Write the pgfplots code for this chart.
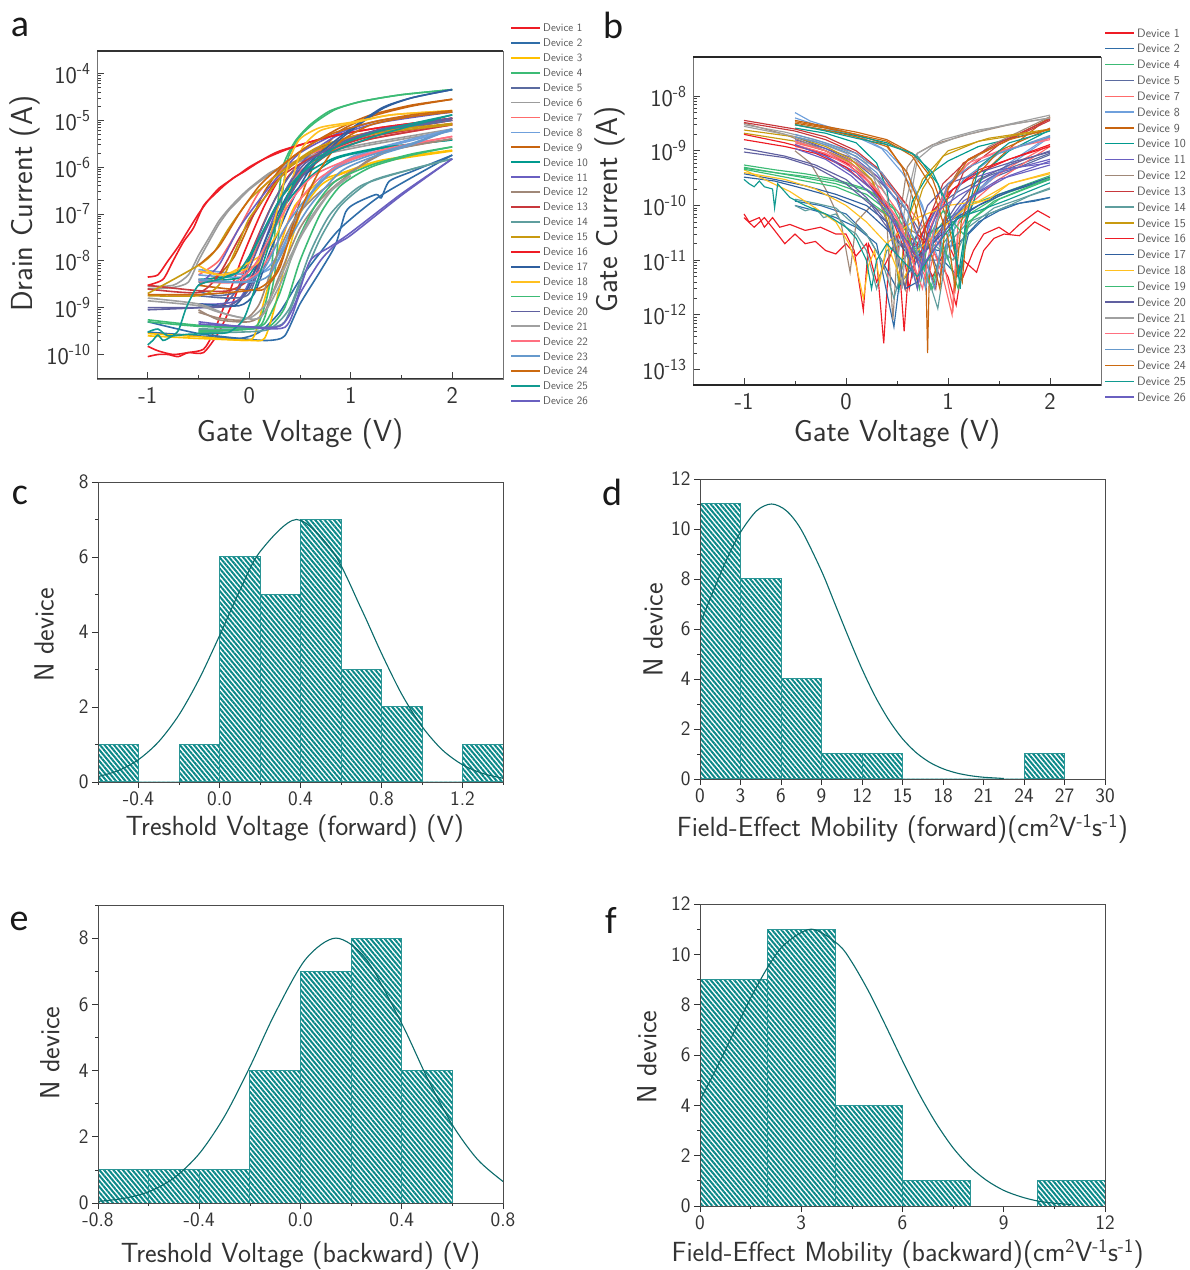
\documentclass[border=0pt]{standalone}
\usepackage{fontspec}
\usepackage{pgfplots}
\pgfplotsset{compat=1.18}
\usetikzlibrary{patterns.meta}
\newfontfamily\letfont{Carlito}
\definecolor{tx}{HTML}{333333}
\definecolor{txl}{HTML}{555555}
\definecolor{hat}{HTML}{0A8888}
\definecolor{hatb}{HTML}{2A9595}
\definecolor{fitc}{HTML}{0B6B6B}
\definecolor{c1}{HTML}{EE1C25}\definecolor{c2}{HTML}{2F6DA8}\definecolor{c3}{HTML}{FFC000}\definecolor{c4}{HTML}{3CBB75}
\definecolor{c5}{HTML}{5B6BA0}\definecolor{c6}{HTML}{9C9C9C}\definecolor{c7}{HTML}{FF6B6B}\definecolor{c8}{HTML}{6FA0DC}
\definecolor{c9}{HTML}{C8640F}\definecolor{c10}{HTML}{009A8E}\definecolor{c11}{HTML}{6A5FC1}\definecolor{c12}{HTML}{A08878}
\definecolor{c13}{HTML}{C8383C}\definecolor{c14}{HTML}{5F9E9E}\definecolor{c15}{HTML}{C89A10}\definecolor{c16}{HTML}{EE1C25}
\definecolor{c17}{HTML}{2F5F9F}\definecolor{c18}{HTML}{FFC020}\definecolor{c19}{HTML}{3CBB75}\definecolor{c20}{HTML}{6060A0}
\definecolor{c21}{HTML}{A0A0A0}\definecolor{c22}{HTML}{FF7080}\definecolor{c23}{HTML}{6699CC}\definecolor{c24}{HTML}{CC6A10}
\definecolor{c25}{HTML}{119A90}\definecolor{c26}{HTML}{6A60C0}
\newcommand\fs[1]{\fontsize{#1}{#1}\selectfont\sffamily}
\newcommand\D[3]{\addplot[#1,forget plot]coordinates{#2};\addplot[#1,forget plot]coordinates{#3};}
\pgfplotsset{
 logpanel/.style={scale only axis,xmin=-1.5,xmax=2.5,
  xtick={-1,0,1,2},xticklabels={-1,0,1,2},minor xtick={-.5,.5,1.5},
  tick align=inside,xtick pos=bottom,ytick pos=left,
  major tick length=7pt,minor tick length=4pt,
  tick style={color=black!75,line width=.7pt},
  axis line style={color=black!55,line width=.8pt},
  tick label style={font=\fs{24},text=tx},
  label style={font=\fs{30.4},text=tx},
  xticklabel style={yshift=-5pt},
  yticklabel style={xshift=-3pt},
  no markers,clip=true},
 histpanel/.style={scale only axis,width=405pt,
  tick align=outside,xtick pos=bottom,ytick pos=left,
  major tick length=6pt,minor tick length=3pt,
  tick style={color=black!80,line width=.7pt},
  axis line style={color=black!70,line width=.8pt},
  tick label style={font=\fs{20.5},text=tx},
  label style={font=\fs{27.7},text=tx},
  axis on top},
 bars/.style={ybar interval,pattern={Lines[angle=-50,distance=3.6pt,line width=2pt]},pattern color=hat,draw=hatb,line width=1pt},
 fit/.style={color=fitc,line width=1.1pt,smooth,no markers},
}
\begin{document}
\begin{tikzpicture}
\path[use as bounding box] (0,0) rectangle (1190pt,1270pt);
% ---------- a
\begin{axis}[logpanel,ymode=log,at={(97pt,891pt)},anchor=south west,width=406pt,height=328pt,
 ymin=3e-11,ymax=3e-4,
 ytick={1e-10,1e-9,1e-8,1e-7,1e-6,1e-5,1e-4},
 yticklabels={10\textsuperscript{-10},10\textsuperscript{-9},10\textsuperscript{-8},10\textsuperscript{-7},10\textsuperscript{-6},10\textsuperscript{-5},10\textsuperscript{-4}},
 xlabel={Gate Voltage (V)},ylabel={Drain Current (A)},
 xlabel style={at={(axis description cs:.5,-.168)},anchor=center},
 ylabel style={at={(axis description cs:-.177,.534)},anchor=center},
 every axis plot/.append style={line width=1.6pt,smooth,tension=.4},
]
\D{c1}{(-1,9e-11)(-.9,1e-10)(-.8,1e-10)(-.7,9e-11)(-.6,1.1e-10)(-.45,1.1e-10)(-.3,3e-10)(-.15,1.5e-9)(0,1.2e-8)(.2,1.2e-7)(.4,7e-7)(.7,2.2e-6)(1.1,4.5e-6)(2,1e-5)}{(-1,1.5e-10)(-.9,1.2e-10)(-.75,1e-10)(-.6,1.1e-10)(-.45,1.3e-10)(-.35,3e-10)(-.2,2e-9)(-.05,1.5e-8)(.15,1.5e-7)(.35,8e-7)(.7,2.6e-6)(1.1,5e-6)(2,1.1e-5)}
\D{c2}{(-1,5e-10)(-.5,2.8e-10)(0,2.1e-10)(.2,2e-10)(.35,2.5e-10)(.5,1.2e-9)(.7,6e-9)(.85,2.2e-8)(.95,1.1e-7)(1.05,1.7e-7)(1.25,2.6e-7)(1.3,2.2e-7)(1.38,5e-7)(1.6,8e-7)(2,1.8e-6)}{(-1,3e-10)(-.5,2.5e-10)(-.1,2.2e-10)(.1,3e-10)(.3,8e-10)(.5,4e-9)(.7,1.5e-8)(.9,5e-8)(1.3,2.5e-7)(2,1.8e-6)}
\D{c3}{(-1,2.5e-10)(-.5,2.2e-10)(0,2e-10)(.15,2.2e-10)(.25,1e-9)(.35,8e-9)(.5,1e-7)(.7,4e-7)(.9,7e-7)(1.3,1.3e-6)(2,2.2e-6)}{(-1,2.8e-10)(-.5,2.4e-10)(-.05,2e-10)(.05,2.5e-10)(.15,1.5e-9)(.3,2e-8)(.45,1.5e-7)(.7,5e-7)(.95,8e-7)(1.3,1.4e-6)(2,2.3e-6)}
\D{c4}{(-1,5.5e-10)(-.5,4.2e-10)(0,3.8e-10)(.1,5e-10)(.2,3e-9)(.27,1e-7)(.33,1e-6)(.45,3.5e-6)(.6,8e-6)(.8,1.6e-5)(1.1,2.5e-5)(1.5,3.5e-5)(2,4.5e-5)}{(-1,5e-10)(-.5,4e-10)(.05,3.8e-10)(.15,6e-10)(.25,5e-9)(.32,2e-7)(.38,1.5e-6)(.5,4.5e-6)(.65,9e-6)(.85,1.7e-5)(1.1,2.5e-5)(1.5,3.5e-5)(2,4.5e-5)}
\D{c5}{(-.5,1.8e-9)(-.2,1.6e-9)(0,2e-9)(.15,1.5e-8)(.35,1.5e-7)(.55,8e-7)(.8,2.2e-6)(1.2,5e-6)(2,1e-5)}{(-.5,2.2e-9)(-.3,1.8e-9)(-.1,2.5e-9)(.05,2e-8)(.25,2e-7)(.45,9e-7)(.75,2.5e-6)(1.2,5.5e-6)(2,1e-5)}
\D{c6}{(-1,2.5e-9)(-.75,2.7e-9)(-.6,3.5e-9)(-.5,1e-8)(-.4,2.5e-8)(-.3,6e-8)(-.2,1.2e-7)(-.1,2e-7)(0,3.3e-7)(.2,7e-7)(.4,1.1e-6)(.7,1.8e-6)(1.2,3e-6)(2,6e-6)}{(-1,2.8e-9)(-.75,3e-9)(-.6,5e-9)(-.5,1.3e-8)(-.4,3e-8)(-.3,7e-8)(-.2,1.3e-7)(-.1,2.2e-7)(0,3.5e-7)(.2,7.5e-7)(.4,1.2e-6)(.7,2e-6)(1.2,3.3e-6)(2,6.5e-6)}
\D{c7}{(-.5,6e-9)(-.2,5e-9)(-.05,6e-9)(.1,2.5e-8)(.3,2e-7)(.5,8e-7)(.8,2.2e-6)(1.2,4e-6)(2,8e-6)}{(-.5,5e-9)(-.3,1e-8)(-.1,5e-8)(.1,3e-7)(.3,8e-7)(.5,1.5e-6)(.8,2.8e-6)(1.2,4.5e-6)(2,8.5e-6)}
\D{c8}{(-.5,6.5e-9)(-.2,5.5e-9)(.05,5e-9)(.25,8e-9)(.4,4e-8)(.6,2.5e-7)(.85,1e-6)(1.2,2.2e-6)(2,6e-6)}{(-.5,5e-9)(-.2,4.5e-9)(.1,5e-9)(.3,1.5e-8)(.5,1.2e-7)(.75,7e-7)(1.1,2e-6)(2,6.5e-6)}
\D{c9}{(-.5,3e-9)(-.2,2.5e-9)(0,2.4e-9)(.15,2.5e-9)(.3,7e-9)(.42,5e-8)(.55,4e-7)(.7,2e-6)(.9,6e-6)(1.2,1.2e-5)(1.6,2e-5)(2,2.8e-5)}{(-.5,3e-9)(-.3,5e-9)(-.15,1.2e-8)(0,6e-8)(.15,3e-7)(.35,1.2e-6)(.6,3e-6)(.9,7e-6)(1.2,1.3e-5)(1.6,2.1e-5)(2,2.8e-5)}
\D{c10}{(-.5,3.5e-9)(-.2,4e-9)(0,5e-9)(.15,2e-8)(.35,1.5e-7)(.55,5e-7)(.85,1.5e-6)(1.3,2.5e-6)(2,3.8e-6)}{(-.5,4e-9)(-.25,4.5e-9)(-.05,7e-9)(.1,3e-8)(.3,2e-7)(.5,6e-7)(.85,1.6e-6)(1.3,2.6e-6)(2,3.8e-6)}
\D{c11}{(-.5,1.2e-9)(-.3,1.2e-9)(-.1,1.5e-9)(.05,6e-9)(.2,5e-8)(.35,3e-7)(.55,1.5e-6)(.85,4.5e-6)(1.3,9e-6)(2,1.5e-5)}{(-.5,3e-9)(-.3,8e-9)(-.1,5e-8)(.1,2e-7)(.3,7e-7)(.5,2e-6)(.85,5e-6)(1.3,1e-5)(2,1.5e-5)}
\D{c12}{(-.5,9e-10)(-.3,5.5e-10)(0,5e-10)(.15,8e-10)(.3,5e-9)(.5,5e-8)(.7,2e-7)(.9,5e-7)(1.3,2e-6)(2,4e-6)}{(-.5,8e-10)(-.3,6e-10)(-.05,5.5e-10)(.1,1.2e-9)(.25,1e-8)(.45,8e-8)(.7,3e-7)(1,8e-7)(1.4,2.3e-6)(2,4e-6)}
\D{c13}{(-1,3e-9)(-.5,2.3e-9)(-.2,2.3e-9)(0,4e-9)(.15,1.5e-8)(.3,1e-7)(.5,6e-7)(.8,2e-6)(1.2,4e-6)(2,8e-6)}{(-1,2.5e-9)(-.5,2.1e-9)(-.3,5e-9)(-.1,3e-8)(.1,1.5e-7)(.3,6e-7)(.7,2e-6)(1.2,4.5e-6)(2,8.5e-6)}
\D{c14}{(-.5,3.5e-10)(-.1,3.5e-10)(.2,3.8e-10)(.35,5e-10)(.5,3e-9)(.7,3e-8)(.9,1.5e-7)(1.2,5e-7)(1.6,9e-7)(2,1.5e-6)}{(-.5,3e-10)(-.1,3e-10)(.2,3.5e-10)(.4,1e-9)(.6,1.5e-8)(.8,1e-7)(1.1,4e-7)(1.6,9e-7)(2,1.5e-6)}
\D{c15}{(-1,1.8e-9)(-.5,1.8e-9)(-.3,3e-9)(-.1,2.5e-8)(0,8e-8)(.2,3e-7)(.4,1e-6)(.7,2.5e-6)(1.2,5e-6)(2,8e-6)}{(-1,2e-9)(-.5,8e-9)(-.35,1.5e-8)(-.2,5e-8)(0,2e-7)(.2,5e-7)(.45,1.3e-6)(.7,2.8e-6)(1.2,5.5e-6)(2,8.5e-6)}
\D{c16}{(-1,4.5e-9)(-.9,5e-9)(-.8,1e-8)(-.7,2e-8)(-.6,4.5e-8)(-.5,1e-7)(-.4,2e-7)(-.3,3.5e-7)(-.2,5e-7)(-.1,7e-7)(0,1e-6)(.15,1.5e-6)(.4,2.5e-6)(.8,4.5e-6)(1.3,7e-6)(2,1.1e-5)}{(-1,3e-9)(-.85,4e-9)(-.75,1e-8)(-.65,2.5e-8)(-.55,5e-8)(-.45,1.5e-7)(-.35,2.5e-7)(-.25,4e-7)(-.15,6e-7)(-.05,8e-7)(.1,1.3e-6)(.3,2.2e-6)(.8,4.5e-6)(1.3,7e-6)(2,1.1e-5)}
\D{c17}{(-.5,1.2e-9)(-.1,1.1e-9)(.05,2e-9)(.2,1.5e-8)(.4,1.5e-7)(.6,9e-7)(.9,4e-6)(1.3,1.7e-5)(1.6,3e-5)(2,4.5e-5)}{(-.5,1.1e-9)(-.15,1.1e-9)(0,3e-9)(.15,2.5e-8)(.35,2e-7)(.55,1e-6)(.9,4.5e-6)(1.3,1.8e-5)(1.6,3e-5)(2,4.5e-5)}
\D{c18}{(-.5,8e-9)(-.3,5e-9)(0,7e-9)(.1,1e-8)(.2,3e-8)(.3,2e-7)(.4,1.5e-6)(.5,4e-6)(.7,7e-6)(1,9e-6)(1.4,1.3e-5)(2,1.6e-5)}{(-.5,6e-9)(-.25,5e-9)(-.05,8e-9)(.15,1.5e-8)(.3,5e-8)(.42,5e-7)(.52,2.5e-6)(.7,6e-6)(1,8.5e-6)(1.4,1.3e-5)(2,1.6e-5)}
\D{c19}{(-.5,3e-10)(0,3.5e-10)(.2,4e-10)(.35,1e-9)(.5,1e-8)(.7,1e-7)(.9,4e-7)(1.2,1e-6)(1.6,1.8e-6)(2,2.7e-6)}{(-.5,3.2e-10)(-.05,3.4e-10)(.15,4.5e-10)(.3,2e-9)(.45,2e-8)(.65,1.5e-7)(.85,5e-7)(1.2,1.1e-6)(1.6,1.9e-6)(2,2.7e-6)}
\D{c20}{(-1,1e-9)(-.5,1e-9)(-.2,1.1e-9)(0,2.5e-9)(.2,3e-8)(.4,2.5e-7)(.6,1e-6)(.9,3e-6)(1.3,6e-6)(2,1.1e-5)}{(-1,9e-10)(-.5,1e-9)(-.25,1.2e-9)(-.05,4e-9)(.15,4e-8)(.35,3e-7)(.55,1.2e-6)(.9,3.3e-6)(1.3,6.5e-6)(2,1.1e-5)}
\D{c21}{(-1,1.6e-9)(-.5,1.2e-9)(-.2,7e-10)(.1,6e-10)(.3,3e-9)(.5,3e-8)(.7,1.5e-7)(.85,4e-7)(1,6.5e-7)}{(1,6.5e-7)(.8,3e-7)(.6,8e-8)(.4,1.2e-8)(.2,1.5e-9)(0,6e-10)(-.3,8e-10)(-.5,1.1e-9)(-1,1.4e-9)}
\D{c22}{(-.5,4e-9)(-.1,3.5e-9)(.1,6e-9)(.3,3e-8)(.5,2e-7)(.7,6e-7)(1,1.4e-6)(1.4,2.5e-6)(2,4.5e-6)}{(-.5,3.6e-9)(-.15,3.5e-9)(.05,8e-9)(.25,5e-8)(.45,2.5e-7)(.65,7e-7)(1,1.5e-6)(1.4,2.6e-6)(2,4.5e-6)}
\D{c23}{(-.5,4e-9)(0,3.5e-9)(.2,5e-9)(.4,3e-8)(.6,1.5e-7)(.9,8e-7)(1.2,1.6e-6)(1.6,3e-6)(2,6.5e-6)}{(-.5,3.8e-9)(-.05,3.5e-9)(.15,7e-9)(.35,5e-8)(.55,2e-7)(.85,9e-7)(1.2,1.8e-6)(1.6,3.2e-6)(2,6.5e-6)}
\D{c24}{(-1,1.9e-9)(-.5,1.9e-9)(-.1,2.2e-9)(.1,2.6e-9)(.25,5e-9)(.4,3e-8)(.55,2e-7)(.7,9e-7)(.9,3.5e-6)(1.2,8e-6)(1.6,1.2e-5)(2,1.5e-5)}{(-.5,8e-9)(-.3,2e-8)(-.1,1e-7)(.1,4e-7)(.3,1e-6)(.6,3e-6)(.85,5.5e-6)(1.2,9e-6)(1.6,1.3e-5)(2,1.6e-5)}
\D{c25}{(-1,1.6e-10)(-.95,2e-10)(-.9,2.6e-10)(-.85,2e-10)(-.8,2.2e-10)(-.7,3.2e-10)(-.62,1e-9)(-.5,3e-9)(-.3,4e-9)(-.1,6e-9)(.1,3e-8)(.3,2e-7)(.5,7e-7)(.8,2e-6)(1.3,5e-6)(2,1.3e-5)}{(-1,3e-10)(-.9,3.5e-10)(-.8,2.5e-10)(-.6,2.7e-10)(-.4,2.8e-10)(-.2,3e-10)(-.05,6e-10)(.1,5e-9)(.25,5e-8)(.4,3e-7)(.6,1.2e-6)(.9,3e-6)(1.3,6e-6)(2,1.3e-5)}
\D{c26}{(-.5,5e-10)(-.1,4e-10)(.35,3.8e-10)(.5,2e-9)(.7,1e-8)(.85,2.2e-8)(1,3.5e-8)(1.5,2.5e-7)(2,1.5e-6)}{(-.5,4.5e-10)(-.1,4e-10)(.3,4e-10)(.45,1.2e-9)(.6,1e-8)(.8,2e-8)(1,4e-8)(1.5,2.7e-7)(2,1.5e-6)}
\draw[line width=1.8pt,black!80] (rel axis cs:0,0)--(rel axis cs:1,0) (rel axis cs:0,1)--(rel axis cs:1,1);
\end{axis}
% ---------- b
\begin{axis}[logpanel,ymode=log,at={(693pt,885pt)},anchor=south west,width=408pt,height=328pt,
 ymin=5.2e-14,ymax=5.2e-8,
 ytick={1e-13,1e-12,1e-11,1e-10,1e-9,1e-8},
 yticklabels={10\textsuperscript{-13},10\textsuperscript{-12},10\textsuperscript{-11},10\textsuperscript{-10},10\textsuperscript{-9},10\textsuperscript{-8}},
 xlabel={Gate Voltage (V)},ylabel={Gate Current (A)},
 xlabel style={at={(axis description cs:.5,-.149)},anchor=center},
 ylabel style={at={(axis description cs:-.203,.534)},anchor=center},
 every axis plot/.append style={line width=1.15pt},
]
\D{c1}{(-1,7e-11)(-.95,5e-11)(-.85,6e-11)(-.8,4e-11)(-.72,6e-11)(-.65,4e-11)(-.55,4.5e-11)(-.4,3.5e-11)(-.25,4e-11)(-.1,3e-11)(0,3e-11)(.08,1.5e-11)(.17,1.2e-12)(.22,2e-11)(.3,1e-11)(.37,3e-13)(.42,1e-11)(.5,3e-11)(.57,5e-13)(.62,1e-11)(.7,3e-11)(.85,1.5e-11)(1,5e-12)(1.08,1.5e-12)(1.15,1e-11)(1.28,6e-12)(1.35,1.5e-11)(1.45,2.5e-11)(1.55,3e-11)(1.7,2.8e-11)(1.85,5e-11)(2,3.5e-11)}{(-1,6e-11)(-.9,4e-11)(-.8,6e-11)(-.7,3.5e-11)(-.6,2e-11)(-.5,3e-11)(-.4,2e-11)(-.3,2.2e-11)(-.2,1.5e-11)(-.1,1.3e-11)(0,2e-11)(.1,1.2e-11)(.2,2e-11)(.3,4e-12)(.45,1.5e-11)(.65,2.5e-11)(.85,5e-12)(1,2e-11)(1.15,5e-12)(1.25,1.5e-11)(1.35,3e-11)(1.5,4e-11)(1.6,3e-11)(1.7,4.5e-11)(1.88,8e-11)(2,6e-11)}
\D{c2}{(-.5,1e-10)(-.3,8e-11)(-.1,6e-11)(.1,4e-11)(.3,2e-11)(.47,6e-13)(.55,1e-11)(.7,2e-11)(.9,1.5e-11)(1.1,2e-11)(1.3,5e-11)(1.5,8e-11)(1.7,1.1e-10)(1.85,1.2e-10)(2,1.4e-10)}{(-.5,1.2e-10)(-.25,1e-10)(0,7e-11)(.2,3e-11)(.35,1e-11)(.5,3e-12)(.7,1e-11)(.95,1e-11)(1.1,5e-12)(1.2,3e-11)(1.4,7e-11)(1.6,1e-10)(1.8,1.2e-10)(2,1.4e-10)}
\D{c4}{(-1,5.5e-10)(-.7,4.5e-10)(-.4,3.8e-10)(-.1,3e-10)(.2,2e-10)(.45,1e-10)(.6,3e-11)(.72,3e-12)(.8,2e-11)(.95,5e-11)(1.2,1e-10)(1.5,1.6e-10)(2,3.5e-10)}{(-1,4.8e-10)(-.7,4e-10)(-.4,3.4e-10)(-.1,2.8e-10)(.2,1.9e-10)(.5,8e-11)(.7,2e-11)(.83,3e-12)(.95,2e-11)(1.15,6e-11)(1.5,1.5e-10)(2,3.2e-10)}
\D{c5}{(-.5,1.5e-9)(-.2,1e-9)(0,6e-10)(.2,3e-10)(.4,1e-10)(.55,3e-11)(.65,5e-12)(.75,3e-11)(.9,1e-10)(1.1,1.8e-10)(1.4,3.5e-10)(2,9e-10)}{(-.5,1.8e-9)(-.2,1.1e-9)(.1,6e-10)(.35,2.5e-10)(.6,8e-11)(.8,2e-11)(.92,5e-12)(1,3e-11)(1.15,1e-10)(1.4,3e-10)(2,8.5e-10)}
\D{c7}{(-.5,1.2e-9)(-.2,9e-10)(.1,5e-10)(.35,2e-10)(.55,6e-11)(.7,1e-11)(.8,4e-12)(.9,3e-11)(1.05,1.3e-12)(1.1,3e-11)(1.25,1.2e-10)(1.5,3e-10)(2,1.2e-9)}{(-.5,1.4e-9)(-.2,1e-9)(.1,6e-10)(.35,3e-10)(.6,1e-10)(.8,3e-11)(.95,5e-12)(1.04,1e-12)(1.1,5e-11)(1.3,2e-10)(1.6,5e-10)(2,1.3e-9)}
\D{c8}{(-.5,5e-9)(-.35,3.5e-9)(-.1,2.5e-9)(.15,1.8e-9)(.4,1e-9)(.6,4e-10)(.75,1e-10)(.85,2e-11)(.95,6e-12)(1,3e-11)(1.2,1.2e-10)(1.5,4e-10)(2,1.8e-9)}{(-.5,4e-9)(-.2,2.6e-9)(.1,1.8e-9)(.35,1.1e-9)(.55,4e-10)(.7,1.5e-10)(.85,3e-11)(1,1e-11)(1.1,8e-11)(1.3,2e-10)(1.6,6e-10)(2,1.9e-9)}
\D{c9}{(-.5,3.6e-9)(-.2,2.8e-9)(.1,2.2e-9)(.4,1.6e-9)(.65,9e-10)(.85,3e-10)(1,5e-11)(1.08,1e-11)(1.14,4e-12)(1.2,1e-10)(1.35,4e-10)(1.6,1.1e-9)(2,4.2e-9)}{(-.5,3.2e-9)(-.2,2.6e-9)(.1,2e-9)(.4,1.3e-9)(.55,5e-10)(.68,1e-10)(.78,1e-11)(.8,2e-13)(.82,1e-11)(.95,1.5e-10)(1.15,6e-10)(1.5,1.3e-9)(2,4e-9)}
\D{c10}{(-.5,3e-9)(-.2,2.4e-9)(.1,1.9e-9)(.4,1.4e-9)(.7,8e-10)(.9,2.5e-10)(1.03,5e-11)(1.1,5e-12)(1.18,5e-11)(1.35,4e-10)(1.6,1e-9)(2,2.4e-9)}{(-.5,2.6e-9)(-.2,2.1e-9)(.1,1.4e-9)(.3,6e-10)(.4,2e-10)(.48,2e-11)(.52,3e-12)(.58,3e-11)(.65,1.2e-10)(.8,3.5e-10)(1,6.5e-10)(1.3,1.2e-9)(2,2.5e-9)}
\D{c11}{(-.5,1.6e-9)(-.2,1.1e-9)(.1,7e-10)(.3,3.5e-10)(.5,1.2e-10)(.65,2e-11)(.74,5e-12)(.8,4e-11)(.95,1.5e-10)(1.2,3e-10)(1.5,4.5e-10)(2,6e-10)}{(-.5,1.3e-9)(-.2,8e-10)(.1,4e-10)(.35,1.3e-10)(.55,3e-11)(.7,1e-11)(.85,2e-11)(1,5e-11)(1.15,1.2e-10)(1.5,3e-10)(2,5.5e-10)}
\D{c12}{(-.5,1e-9)(-.35,6e-10)(-.2,2e-10)(-.05,5e-11)(.04,6e-12)(.1,5e-11)(.25,1e-10)(.5,5e-11)(.7,3e-11)(.9,1e-10)(1.1,4e-10)(1.4,1.2e-9)(2,4.2e-9)}{(-1,3.2e-9)(-.6,2e-9)(-.3,1.2e-9)(0,7e-10)(.25,3e-10)(.4,5e-11)(.46,8e-13)(.52,5e-11)(.6,5e-10)(.7,9e-10)(.85,1.3e-9)(1.2,2e-9)(1.6,3e-9)(2,4e-9)}
\D{c13}{(-1,3.6e-9)(-.5,2.5e-9)(-.2,1.8e-9)(.1,1e-9)(.3,5e-10)(.5,1.5e-10)(.62,2e-11)(.7,4e-12)(.78,4e-11)(.95,2.5e-10)(1.2,7e-10)(1.5,1.4e-9)(2,3.8e-9)}{(-1,3.3e-9)(-.5,2.3e-9)(-.2,1.6e-9)(.1,9e-10)(.35,4e-10)(.6,1e-10)(.75,1.5e-11)(.88,3e-12)(.95,5e-11)(1.15,4e-10)(1.5,1.3e-9)(2,3.6e-9)}
\D{c14}{(-.5,1e-10)(-.4,8e-11)(-.3,9e-11)(-.22,6e-11)(-.1,7e-11)(0,4e-11)(.1,3e-11)(.2,1.5e-11)(.3,3e-12)(.4,1.5e-11)(.55,2e-11)(.75,1e-11)(.9,1.3e-12)(1,2e-11)(1.2,5e-11)(1.4,7e-11)(1.6,1e-10)(1.8,1.5e-10)(2,2e-10)}{(-.5,1.3e-10)(-.3,1.1e-10)(-.1,9e-11)(.05,5e-11)(.2,3e-11)(.35,1e-11)(.47,2e-12)(.6,1.5e-11)(.85,2e-11)(1.05,1e-11)(1.2,4e-11)(1.45,9e-11)(1.7,1.3e-10)(2,2.1e-10)}
\D{c15}{(-1,2.4e-9)(-.5,1.8e-9)(-.2,1.2e-9)(.05,7e-10)(.25,3e-10)(.4,8e-11)(.52,1e-11)(.58,3e-12)(.65,5e-11)(.75,2e-10)(.95,8e-10)(1.3,1.5e-9)(2,2.4e-9)}{(-1,2.1e-9)(-.5,1.5e-9)(-.2,1e-9)(.05,6e-10)(.3,2e-10)(.45,3e-11)(.52,4e-12)(.6,5e-11)(.75,3e-10)(1,1e-9)(1.4,1.7e-9)(2,2.5e-9)}
\D{c16}{(-1,2e-9)(-.6,1.4e-9)(-.3,1e-9)(0,6e-10)(.2,3e-10)(.4,1e-10)(.55,2e-11)(.62,3e-12)(.7,2e-11)(.85,8e-11)(1.05,2e-10)(1.3,4.5e-10)(1.6,7e-10)(2,1.2e-9)}{(-1,1.6e-9)(-.6,1.2e-9)(-.3,9e-10)(0,5e-10)(.25,2e-10)(.5,5e-11)(.7,1e-11)(.85,5e-11)(1.05,2e-10)(1.3,4e-10)(1.6,7e-10)(2,1.3e-9)}
\D{c17}{(-1,3.8e-10)(-.7,3e-10)(-.4,2.3e-10)(-.1,1.6e-10)(.2,1e-10)(.4,5e-11)(.58,3e-12)(.7,4e-12)(.8,3e-11)(1,5e-11)(1.2,8e-11)(1.5,1.6e-10)(2,3.3e-10)}{(-1,3.3e-10)(-.7,2.8e-10)(-.4,2e-10)(-.1,1.4e-10)(.2,8e-11)(.45,3e-11)(.65,1e-11)(.85,2e-11)(1.05,5e-11)(1.3,1e-10)(1.6,1.8e-10)(2,3e-10)}
\D{c18}{(-1,4.5e-10)(-.8,3e-10)(-.55,1.8e-10)(-.3,9e-11)(-.1,5e-11)(.03,2e-11)(.1,8e-12)(.17,2e-12)(.22,8e-12)(.28,1.5e-11)(.33,4e-12)(.4,2e-11)(.5,3e-11)(.7,6e-11)(1,1e-10)(1.3,1.2e-10)(1.6,2.5e-10)(2,4e-10)}{(-1,4e-10)(-.6,3e-10)(-.3,2e-10)(0,1e-10)(.2,5e-11)(.4,2e-11)(.55,4e-12)(.7,1.5e-11)(.95,4e-11)(1.2,1e-10)(1.4,1.3e-10)(1.6,2.5e-10)(2,3.8e-10)}
\D{c19}{(-1,5e-10)(-.7,4e-10)(-.4,3.2e-10)(-.1,2.5e-10)(.2,1.6e-10)(.45,7e-11)(.62,1.2e-11)(.7,3e-12)(.78,2e-11)(.95,8e-11)(1.15,3e-11)(1.25,6e-11)(1.45,1.2e-10)(2,3.2e-10)}{(-1,4.6e-10)(-.7,3.6e-10)(-.4,2.8e-10)(-.1,2.2e-10)(.2,1.3e-10)(.5,5e-11)(.68,1.5e-11)(.85,3e-12)(.95,2e-11)(1.1,3e-12)(1.2,5e-11)(1.5,1.3e-10)(2,3e-10)}
\D{c20}{(-1,1.1e-9)(-.6,8e-10)(-.3,5.5e-10)(0,3e-10)(.2,1.4e-10)(.4,5e-11)(.52,1e-11)(.58,3e-12)(.66,2e-11)(.8,1e-10)(1,2.5e-10)(1.3,4e-10)(1.6,6e-10)(2,9.5e-10)}{(-1,9.5e-10)(-.6,7.5e-10)(-.3,5e-10)(0,2.5e-10)(.25,1e-10)(.45,3e-11)(.7,1e-11)(.9,3e-11)(1.08,1e-10)(1.3,3e-10)(1.6,5.5e-10)(2,1e-9)}
\D{c21}{(-1,3e-9)(-.6,2.2e-9)(-.3,1.6e-9)(0,1e-9)(.2,6e-10)(.4,1.5e-10)(.5,2e-11)(.55,3e-12)(.62,1e-10)(.7,7e-10)(.85,1.2e-9)(1.1,1.8e-9)(1.5,2.8e-9)(2,4.5e-9)}{(-1,2.8e-9)(-.6,2e-9)(-.3,1.5e-9)(0,9e-10)(.25,4e-10)(.42,7e-11)(.5,8e-12)(.58,1e-10)(.7,9e-10)(.95,1.6e-9)(1.3,2.4e-9)(2,4e-9)}
\D{c22}{(-.5,1.3e-9)(-.2,9e-10)(.05,5e-10)(.3,2e-10)(.5,6e-11)(.65,1e-11)(.75,3e-12)(.85,3e-11)(1,2e-10)(1.2,6e-10)(1.5,1e-9)(2,1.6e-9)}{(-.5,1.5e-9)(-.2,1e-9)(.1,5e-10)(.35,1.5e-10)(.55,4e-11)(.7,5e-12)(.85,5e-11)(1,2.5e-10)(1.3,7e-10)(1.6,1.1e-9)(2,1.7e-9)}
\D{c23}{(-.5,1.8e-9)(-.2,1.3e-9)(.1,8e-10)(.3,4e-10)(.5,1.2e-10)(.68,2e-11)(.78,3e-12)(.88,5e-11)(1,2.5e-10)(1.2,5e-10)(1.5,9e-10)(2,1.9e-9)}{(-.5,2e-9)(-.2,1.4e-9)(.1,9e-10)(.35,4e-10)(.6,8e-11)(.75,1.5e-11)(.87,3e-12)(.98,8e-11)(1.15,3e-10)(1.5,9e-10)(2,1.8e-9)}
\D{c24}{(-.5,3.4e-9)(-.2,2.7e-9)(.1,2e-9)(.4,1.5e-9)(.65,8e-10)(.85,2e-10)(1,2.5e-11)(1.07,3e-12)(1.13,5e-11)(1.25,3e-10)(1.5,1e-9)(2,2.6e-9)}{(-.5,3e-9)(-.2,2.4e-9)(.1,1.8e-9)(.4,1.2e-9)(.6,4e-10)(.72,1e-10)(.85,1e-11)(.92,3e-12)(1,2e-10)(1.2,7e-10)(1.6,1.6e-9)(2,2.5e-9)}
\D{c25}{(-1,3e-10)(-.95,2.5e-10)(-.9,2.2e-10)(-.85,2.8e-10)(-.8,2.2e-10)(-.72,2e-10)(-.7,9e-11)(-.67,2.5e-10)(-.55,1.4e-10)(-.4,1e-10)(-.2,7e-11)(0,4e-11)(.1,2.5e-11)(.2,1e-11)(.25,3e-12)(.3,1e-11)(.4,2e-11)(.55,1e-11)(.7,5e-12)(.9,2e-11)(1.1,6e-11)(1.3,8e-11)(1.6,1.3e-10)(2,2.6e-10)}{(-.5,3e-9)(-.2,2.3e-9)(.1,1.7e-9)(.4,1.3e-9)(.65,9e-10)(.85,4e-10)(1,1e-10)(1.07,2e-11)(1.12,3e-12)(1.17,5e-11)(1.3,5e-10)(1.6,1.4e-9)(2,2.3e-9)}
\D{c26}{(-.5,1.3e-9)(-.2,8e-10)(.05,4e-10)(.25,2e-10)(.45,7e-11)(.6,1.5e-11)(.7,3e-12)(.78,2e-11)(.9,8e-11)(1.1,1.5e-10)(1.5,4e-10)(2,7e-10)}{(-.5,1.1e-9)(-.2,7e-10)(.05,3.5e-10)(.3,1.3e-10)(.55,3e-11)(.75,8e-12)(.9,2e-11)(1.05,6e-11)(1.25,1.5e-10)(1.6,3.5e-10)(2,6.5e-10)}
\draw[line width=1.8pt,black!85] (rel axis cs:0,0)--(rel axis cs:1,0) (rel axis cs:0,1)--(rel axis cs:1,1);
\end{axis}
% ---------- c
\begin{axis}[histpanel,at={(98pt,488pt)},anchor=south west,height=300pt,
 xmin=-.6,xmax=1.4,ymin=0,ymax=8,
 xtick={-.4,0,.4,.8,1.2},xticklabels={-0.4,0.0,0.4,0.8,1.2},minor xtick={-.6,-.2,.2,.6,1,1.4},
 ytick={0,2,4,6,8},yticklabels={0,2,4,6,8},minor ytick={1,3,5,7},
 xlabel={Treshold Voltage (forward) (V)},ylabel={N device},
 xlabel style={at={(axis description cs:.486,-.155)},anchor=center},
 ylabel style={at={(axis description cs:-.133,.49)},anchor=center}]
\addplot[bars] coordinates {(-.6,1)(-.4,0)(-.2,1)(0,6)(.2,5)(.4,7)(.6,3)(.8,2)(1,0)(1.2,1)(1.4,0)};
\addplot[fit] coordinates {(-.6,.143)(-.5,.304)(-.4,.597)(-.3,1.077)(-.2,1.79)(-.1,2.75)(0,3.9)(.1,5.1)(.2,6.14)(.38,7)(.56,6.14)(.7,4.62)(.8,3.43)(.9,2.34)(1,1.48)(1.1,.857)(1.2,.46)(1.3,.227)(1.4,.1)};
\end{axis}
% ---------- d
\begin{axis}[histpanel,at={(700pt,491pt)},anchor=south west,height=300pt,
 xmin=0,xmax=30,ymin=0,ymax=12,
 xtick={0,3,6,9,12,15,18,21,24,27,30},xticklabels={0,3,6,9,12,15,18,21,24,27,30},
 ytick={0,2,4,6,8,10,12},yticklabels={0,2,4,6,8,10,12},minor ytick={1,3,5,7,9,11},
 xlabel={Field-Effect Mobility (forward)(cm\textsuperscript{2}V\textsuperscript{-1}s\textsuperscript{-1})},ylabel={N device},
 xlabel style={at={(axis description cs:.5,-.167)},anchor=center},
 ylabel style={at={(axis description cs:-.116,.497)},anchor=center}]
\addplot[bars] coordinates {(0,11)(3,8)(6,4)(9,1)(12,1)(15,0)(24,1)(27,0)};
\addplot[fit] coordinates {(0,6.2)(1,7.54)(2,8.81)(3,9.87)(4.2,10.73)(5.3,11)(6.4,10.73)(7.5,9.97)(9,8.32)(10,7)(11,5.67)(12,4.4)(13,3.28)(14,2.35)(15,1.61)(16,1.06)(17,.67)(18,.41)(19,.24)(20,.134)(21,.07)(22,.037)(22.5,.02)};
\end{axis}
% ---------- e
\begin{axis}[histpanel,at={(98pt,67pt)},anchor=south west,height=298pt,
 xmin=-.8,xmax=.8,ymin=0,ymax=9,
 xtick={-.8,-.4,0,.4,.8},xticklabels={-0.8,-0.4,0.0,0.4,0.8},minor xtick={-.6,-.2,.2,.6},
 ytick={0,2,4,6,8},yticklabels={0,2,4,6,8},minor ytick={1,3,5,7,9},
 xlabel={Treshold Voltage (backward) (V)},ylabel={N device},
 xlabel style={at={(axis description cs:.5,-.175)},anchor=center},
 ylabel style={at={(axis description cs:-.119,.503)},anchor=center}]
\addplot[bars] coordinates {(-.8,1)(-.6,1)(-.4,1)(-.2,4)(0,7)(.2,8)(.4,4)(.6,0)};
\addplot[fit] coordinates {(-.8,.049)(-.7,.137)(-.6,.34)(-.5,.755)(-.4,1.49)(-.3,2.62)(-.2,4.11)(-.1,5.74)(.02,7.36)(.14,8)(.26,7.36)(.4,5.42)(.5,3.79)(.6,2.36)(.7,1.31)(.8,.65)};
\end{axis}
% ---------- f
\begin{axis}[histpanel,at={(700pt,64pt)},anchor=south west,height=302pt,
 xmin=0,xmax=12,ymin=0,ymax=12,
 xtick={0,3,6,9,12},xticklabels={0,3,6,9,12},minor xtick={1.5,4.5,7.5,10.5},
 ytick={0,2,4,6,8,10,12},yticklabels={0,2,4,6,8,10,12},minor ytick={1,3,5,7,9,11},
 xlabel={Field-Effect Mobility (backward)(cm\textsuperscript{2}V\textsuperscript{-1}s\textsuperscript{-1})},ylabel={N device},
 xlabel style={at={(axis description cs:.513,-.159)},anchor=center},
 ylabel style={at={(axis description cs:-.131,.493)},anchor=center}]
\addplot[bars] coordinates {(0,9)(2,11)(4,4)(6,1)(8,0)(10,1)(12,0)};
\addplot[fit] coordinates {(0,4.2)(.5,5.5)(1,6.89)(1.5,8.26)(2,9.47)(2.5,10.39)(3.3,11)(4.1,10.39)(4.5,9.69)(5,8.52)(5.5,7.17)(6,5.77)(6.5,4.44)(7,3.28)(7.5,2.31)(8,1.56)(8.5,1.01)(9,.62)(9.5,.37)(10,.2)(10.5,.11)(11,.06)};
\end{axis}
% ---------- legends
\foreach \c [count=\i from 0] in {1,...,26}{
 \pgfmathsetmacro\yy{1242-14.92*\i}
 \draw[c\c,line width=1.8pt] (511pt,\yy pt)--(540pt,\yy pt);
 \node[anchor=west,inner sep=0pt,font=\fs{11.2},text=txl] at (543pt,\yy pt) {Device \c};
}
\foreach \c [count=\i from 0] in {1,2,4,5,7,8,9,10,11,12,13,14,15,16,17,18,19,20,21,22,23,24,25,26}{
 \pgfmathsetmacro\yy{1237-15.83*\i}
 \draw[c\c,line width=1.3pt] (1105pt,\yy pt)--(1134pt,\yy pt);
 \node[anchor=west,inner sep=0pt,font=\fs{12.2},text=txl] at (1137pt,\yy pt) {Device \c};
}
% ---------- panel letters
\foreach \lt/\xx/\yy in {a/20/1243,b/613/1245,c/20/775,d/612/778,e/19/349,f/611/350}
 \node[font=\letfont\fontsize{38}{38}\selectfont,text=black!90] at (\xx pt,\yy pt) {\lt};
\end{tikzpicture}
\end{document}
